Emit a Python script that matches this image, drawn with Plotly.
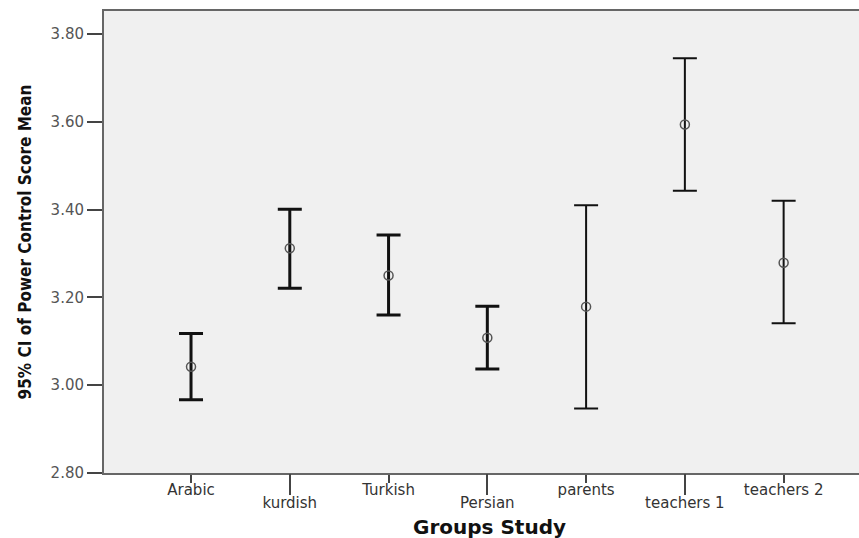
import plotly.graph_objects as go

groups = ["Arabic", "kurdish", "Turkish", "Persian", "parents", "teachers 1", "teachers 2"]
means = [3.042, 3.312, 3.250, 3.108, 3.179, 3.594, 3.279]
upper = [3.118, 3.401, 3.342, 3.180, 3.410, 3.745, 3.420]
lower = [2.967, 3.221, 3.160, 3.037, 2.947, 3.443, 3.141]
line_w = [3, 3, 3, 3, 2, 2, 2]

y_ticks = [2.80, 3.00, 3.20, 3.40, 3.60, 3.80]
y_ticktext = ["2.80", "3.00", "3.20", "3.40", "3.60", "3.80"]

xs = list(range(len(groups)))
x_range = [-0.881, 6.763]

fig = go.Figure()
for i, g in enumerate(groups):
    fig.add_trace(go.Scatter(
        x=[i], y=[means[i]], mode="markers",
        marker=dict(symbol="circle-open", size=9, color="#555", line=dict(width=1.5)),
        error_y=dict(type="data", symmetric=False,
                     array=[upper[i] - means[i]], arrayminus=[means[i] - lower[i]],
                     color="#111", thickness=line_w[i], width=12),
        showlegend=False, hoverinfo="skip"))

even_idx = [i for i in xs if i % 2 == 0]
odd_idx = [i for i in xs if i % 2 == 1]

fig.add_trace(go.Scatter(x=[1], y=[None], xaxis="x2", showlegend=False, hoverinfo="skip"))

tick_font = dict(family="DejaVu Sans, sans-serif", size=15, color="#333")

fig.update_layout(
    width=859, height=538,
    margin=dict(l=104, r=0, t=11, b=65),
    paper_bgcolor="white", plot_bgcolor="#f0f0f0",
    font=dict(family="DejaVu Sans, sans-serif", color="#333", size=15),
    xaxis=dict(range=x_range, tickvals=even_idx, ticktext=[groups[i] for i in even_idx],
               ticks="outside", ticklen=8, tickwidth=2, tickcolor="#444",
               showline=True, linecolor="#666", linewidth=2, mirror=True,
               showgrid=False, zeroline=False, automargin=False,
               ticklabelstandoff=-6, tickfont=tick_font),
    xaxis2=dict(overlaying="x", side="bottom", range=x_range,
                tickvals=odd_idx, ticktext=[groups[i] for i in odd_idx],
                ticks="outside", ticklen=21, tickwidth=2, tickcolor="#444",
                showline=False, showgrid=False, zeroline=False, automargin=False,
                ticklabelstandoff=-5, tickfont=tick_font),
    yaxis=dict(range=[2.80, 3.8525], tickvals=y_ticks, ticktext=y_ticktext,
               ticks="outside", ticklen=15, tickwidth=2, tickcolor="#444",
               showline=True, linecolor="#666", linewidth=2, mirror=False,
               showgrid=False, zeroline=False, automargin=False,
               tickfont=dict(family="DejaVu Sans, sans-serif", size=15, color="#555"),
               title=dict(text="<b>95% CI of Power Control Score Mean</b>",
                          font=dict(family="DejaVu Sans Condensed, DejaVu Sans, sans-serif", size=17, color="#111"))),
    annotations=[dict(text="<b>Groups Study</b>", xref="paper", yref="paper",
                      x=(489.5 - 104) / 755, y=0, yshift=-54, yanchor="middle",
                      showarrow=False,
                      font=dict(family="DejaVu Sans, sans-serif", size=20, color="#111"))],
)

fig.write_html("out.html", config={"displayModeBar": False},
               post_script="document.body.style.margin='0';")
